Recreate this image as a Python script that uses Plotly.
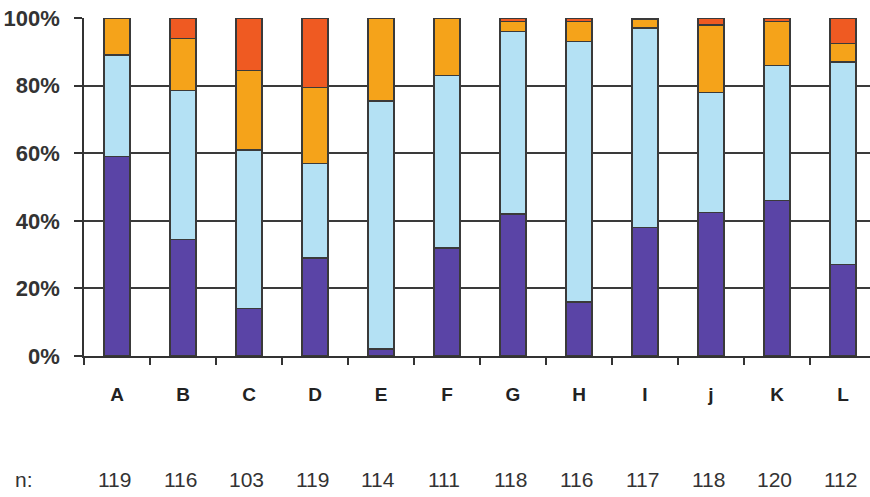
import plotly.graph_objects as go

categories = ["A", "B", "C", "D", "E", "F", "G", "H", "I", "j", "K", "L"]
n_values = [119, 116, 103, 119, 114, 111, 118, 116, 117, 118, 120, 112]

s1_purple = [59, 34.5, 14, 29, 2, 32, 42, 16, 38, 42.5, 46, 27]
s2_lightblue = [30, 44, 47, 28, 73.5, 51, 54, 77, 59, 35.5, 40, 60]
s3_orange = [11, 15.5, 23.5, 22.5, 24.5, 17, 3, 6, 2.5, 20, 13, 5.5]
s4_red = [0, 6, 15.5, 20.5, 0, 0, 1, 1, 0.5, 2, 1, 7.5]

y_ticks = [0, 20, 40, 60, 80, 100]
y_ticklabels = ["0%", "20%", "40%", "60%", "80%", "100%"]

series = [
    (s1_purple, "#5a44a6"),
    (s2_lightblue, "#b4e1f4"),
    (s3_orange, "#f5a31a"),
    (s4_red, "#ef5a22"),
]

fig = go.Figure()
for vals, col in series:
    fig.add_trace(go.Bar(
        x=categories, y=vals, width=0.4,
        marker=dict(color=col, line=dict(color="#3a3a3a", width=1.5)),
        showlegend=False,
    ))

W, H = 870, 497
ml, mt = 84, 17.5
y0 = 356.5
plot_w = W - ml
plot_h = y0 - mt
mb = H - y0

n_row_y = (y0 - 480) / plot_h

annotations = []
for c, n in zip(categories, n_values):
    annotations.append(dict(
        x=c, xref="x", y=n_row_y, yref="paper", xshift=-3,
        text=str(n), showarrow=False, xanchor="center", yanchor="middle",
        font=dict(family="Liberation Sans", size=21, color="#333"),
    ))
annotations.append(dict(
    x=(13 - ml) / plot_w, xref="paper", y=n_row_y, yref="paper",
    text="n:", showarrow=False, xanchor="left", yanchor="middle",
    font=dict(family="Liberation Sans", size=21, color="#333"),
))

fig.update_layout(
    width=W, height=H,
    margin=dict(l=ml, r=0, t=mt, b=mb, pad=0),
    barmode="stack",
    plot_bgcolor="white", paper_bgcolor="white",
    annotations=annotations,
    xaxis=dict(
        range=[-0.5, 11.5 - 6 / 66],
        showline=True, linecolor="#333", linewidth=1.5,
        ticks="outside", tickson="boundaries", ticklen=7, tickcolor="#333", tickwidth=1.5,
        tickfont=dict(family="Liberation Sans", size=19, color="#222", weight="bold"),
        ticklabelstandoff=20,
        showgrid=False,
    ),
    yaxis=dict(
        range=[0, 100],
        tickvals=y_ticks, ticktext=y_ticklabels,
        showline=True, linecolor="#333", linewidth=1.5,
        ticks="outside", ticklen=8, tickcolor="#333", tickwidth=1.5,
        tickfont=dict(family="Liberation Sans", size=22, color="#333", weight="bold"),
        ticklabelstandoff=10, ticklabeloverflow="allow",
        showgrid=True, gridcolor="#3a3a3a", gridwidth=1.5,
        zeroline=False,
    ),
)

fig.write_html(
    "out.html",
    config={"displayModeBar": False},
    post_script="document.body.style.margin='0';document.body.style.overflow='hidden';",
)
